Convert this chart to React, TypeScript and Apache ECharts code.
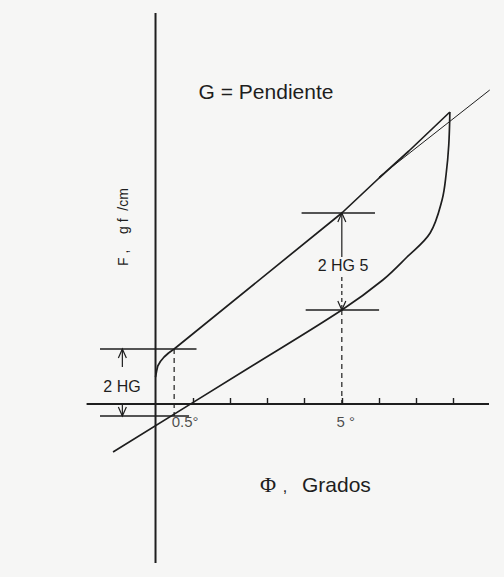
import { useEffect, useRef } from 'react';
import * as echarts from 'echarts';

const INK = '#1e1e1e';

// Φ in degrees, F in gf/cm (scale units)
const upperBranch: [number, number][] = [
  [0, 2.7], [0.03, 3.3], [0.06, 3.8], [0.13, 4.25], [0.23, 4.7], [0.35, 5.1], [0.5, 5.5],
  [5, 19.1], [6.0, 22.6], [6.8, 25.3], [7.9, 29.2],
];
const lowerBranch: [number, number][] = [
  [-1.14, -4.8], [2.5, 3.6], [5, 9.4], [6.1, 12.4], [6.75, 14.7], [7.37, 17.1],
  [7.69, 20.4], [7.8, 23.0], [7.87, 25.9], [7.9, 29.2],
];
const slopeLine: [number, number][] = [[6.0, 22.7], [8.97, 31.4]];

const xAxisLine: [number, number][] = [[-1.85, 0], [8.95, 0]];
const yAxisLine: [number, number][] = [[0, -15.9], [0, 39.1]];
const tickValues = [1, 2, 3, 4, 5, 6, 7, 8];
const labelValues = [0.5, 5];
const labelTexts = ['0.5°', '5 °'];

// horizontal level marks: [F, Φ from, Φ to]
const levelMarks: [number, number, number][] = [
  [5.5, -1.49, 1.1],
  [-1.2, -1.49, 0.9],
  [19.1, 3.92, 5.89],
  [9.4, 4.03, 6.0],
];
// dashed drop lines: [Φ, F from, F to]
const dropLines: [number, number, number][] = [
  [0.5, 5.5, -1.2],
  [5, 9.4, 0],
];
// dimension arrows: [Φ, F from, F tip, dashed]
const arrows: [number, number, number, number][] = [
  [-0.89, 3.7, 5.5, 0],
  [-0.89, 0, -1.2, 0],
  [5, 14.7, 19.1, 0],
  [5, 12.7, 9.4, 1],
];

const lineSeries = (data: [number, number][], width: number, dashed = false, smooth: number | boolean = false) => ({
  type: 'line',
  data,
  showSymbol: false,
  symbol: 'none',
  silent: true,
  smooth,
  lineStyle: { color: INK, width, type: dashed ? [5, 4] : 'solid' },
});

export default function App() {
  const ref = useRef<HTMLDivElement>(null);

  useEffect(() => {
    if (!ref.current) return;
    const chart = echarts.init(ref.current, null, { renderer: 'svg' });

    const series: any[] = [
      lineSeries(xAxisLine, 2),
      lineSeries(yAxisLine, 2),
      lineSeries(upperBranch, 1.7),
      lineSeries(lowerBranch, 1.7, false, 0.35),
      lineSeries(slopeLine, 1),
      ...levelMarks.map(([f, a, b]) => lineSeries([[a, f], [b, f]], 1.4)),
      ...dropLines.map(([x, a, b]) => lineSeries([[x, a], [x, b]], 1.2, true)),
      {
        type: 'custom',
        silent: true,
        data: arrows,
        encode: { x: 0, y: [1, 2] },
        renderItem: (_p: any, api: any) => {
          const x = api.value(0);
          const a = api.coord([x, api.value(1)]);
          const b = api.coord([x, api.value(2)]);
          const dir = b[1] > a[1] ? 1 : -1;
          return {
            type: 'group',
            children: [
              {
                type: 'line',
                shape: { x1: a[0], y1: a[1], x2: b[0], y2: b[1] },
                style: { stroke: INK, lineWidth: 1.2, lineDash: api.value(3) ? [4, 3] : null },
              },
              {
                type: 'polyline',
                shape: { points: [[b[0] - 4, b[1] - dir * 9], [b[0], b[1]], [b[0] + 4, b[1] - dir * 9]] },
                style: { stroke: INK, lineWidth: 1.2, fill: 'none' },
              },
            ],
          };
        },
      },
      {
        // degree labels under the Φ axis
        type: 'scatter',
        silent: true,
        symbolSize: 0,
        data: labelValues.map((v, i) => ({
          value: [v, 0],
          label: { formatter: labelTexts[i], offset: [i === 0 ? 11 : 4, 0] },
        })),
        label: {
          show: true,
          position: 'bottom',
          distance: 10,
          color: INK,
          fontFamily: 'Liberation Sans',
          fontSize: 15,
        },
      },
    ];

    chart.setOption({
      animation: false,
      backgroundColor: '#f6f6f5',
      grid: { left: 81, right: 15, top: 13, bottom: 14, containLabel: false, outerBoundsMode: 'none' },
      xAxis: {
        type: 'value',
        min: -2,
        max: 8.95,
        splitLine: { show: false },
        axisLine: { show: false, onZero: true },
        axisTick: {
          show: true,
          inside: true,
          length: 6,
          customValues: tickValues,
          lineStyle: { color: INK, width: 1.4 },
        },
        axisLabel: { show: false },
      },
      yAxis: {
        type: 'value',
        min: -15.9,
        max: 39.1,
        show: false,
        splitLine: { show: false },
      },
      series,
      graphic: [
        {
          type: 'text', x: 266, y: 91,
          style: { text: 'G = Pendiente', fill: INK, font: '21px "Liberation Sans"', align: 'center', verticalAlign: 'middle' },
        },
        {
          type: 'text', x: 122, y: 386,
          style: { text: '2 HG', fill: INK, font: '16px "Liberation Sans"', align: 'center', verticalAlign: 'middle' },
        },
        {
          type: 'text', x: 343, y: 265,
          style: { text: '2 HG 5', fill: INK, font: '16px "Liberation Sans"', align: 'center', verticalAlign: 'middle' },
        },
        {
          type: 'text', x: 268, y: 484,
          style: { text: 'Φ', fill: INK, font: '22px "Liberation Serif"', align: 'center', verticalAlign: 'middle' },
        },
        {
          type: 'text', x: 285, y: 486,
          style: { text: ',', fill: INK, font: '16px "Liberation Sans"', align: 'center', verticalAlign: 'middle' },
        },
        {
          type: 'text', x: 302, y: 484,
          style: { text: 'Grados', fill: INK, font: '21px "Liberation Sans"', align: 'left', verticalAlign: 'middle' },
        },
        {
          type: 'text', x: 123, y: 227, rotation: Math.PI / 2,
          style: { text: 'F ,    g f  /cm', fill: INK, font: '14px "Liberation Sans"', align: 'center', verticalAlign: 'middle' },
        },
      ],
    });

    return () => chart.dispose();
  }, []);

  return (
    <div
      ref={ref}
      style={{ position: 'absolute', left: 0, top: 0, width: 504, height: 577 }}
    />
  );
}
